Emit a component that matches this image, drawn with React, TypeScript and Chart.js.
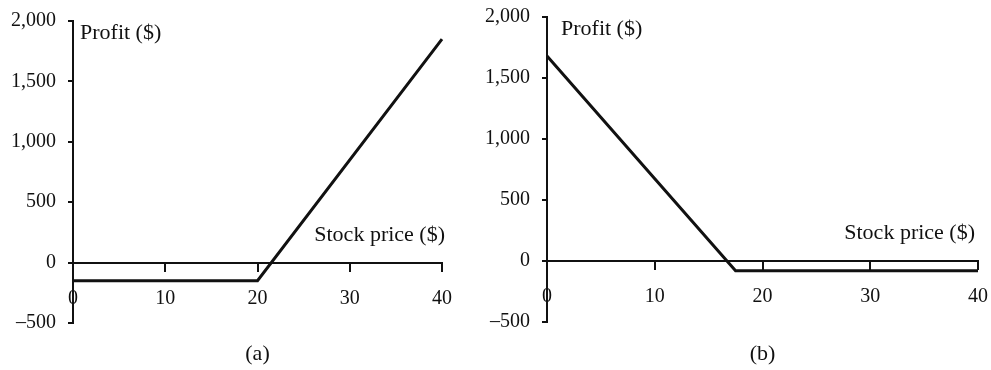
import React, { useEffect, useRef } from "react";
import { Chart, registerables } from "chart.js";

Chart.register(...registerables);

// ---- data ----
const stockPriceA = [0, 20, 40];
const profitA = [-150, -150, 1850];
const stockPriceB = [0, 17.5, 40];
const profitB = [1680, -80, -80];

const xTickValues = [0, 10, 20, 30, 40];
const xTickLabels = ["0", "10", "20", "30", "40"];
const yTickValues = [-500, 0, 500, 1000, 1500, 2000];
const yTickLabels = ["\u2013500", "0", "500", "1,000", "1,500", "2,000"];

const yAxisTitle = "Profit ($)";
const xAxisTitle = "Stock price ($)";
const panelCaptions = ["(a)", "(b)"];

const INK = "#111";
const FONT_FAMILY = '"Liberation Serif", "Times New Roman", serif';

const annotationPlugin = {
  id: "panelAnnotations",
  afterDraw(chart: any, _args: any, opts: any) {
    const { ctx, chartArea, scales } = chart;
    const y = scales.y;
    ctx.save();
    ctx.fillStyle = INK;
    ctx.font = `22px ${FONT_FAMILY}`;
    ctx.textBaseline = "alphabetic";
    ctx.textAlign = "left";
    ctx.fillText(yAxisTitle, chartArea.left + opts.titleDx, y.getPixelForValue(y.max) + 18);
    ctx.textAlign = "right";
    ctx.fillText(xAxisTitle, chartArea.right + opts.xTitleDx, y.getPixelForValue(0) - 22);
    ctx.textAlign = "center";
    ctx.fillText(opts.caption, (chartArea.left + chartArea.right) / 2, 360);
    ctx.restore();
  },
};

type PanelProps = {
  xs: number[];
  ys: number[];
  caption: string;
  left: number;
  width: number;
  yWidth: number;
  padTop: number;
  padRight: number;
  padBottom: number;
  titleDx: number;
  xTitleDx: number;
};

function Panel(p: PanelProps) {
  const ref = useRef<HTMLCanvasElement | null>(null);
  useEffect(() => {
    if (!ref.current) return;
    const tickFont = { family: FONT_FAMILY, size: 20 };
    const chart = new Chart(ref.current, {
      type: "line",
      data: {
        datasets: [
          {
            data: p.xs.map((x, i) => ({ x, y: p.ys[i] })),
            borderColor: INK,
            borderWidth: 3,
            pointRadius: 0,
            tension: 0,
            fill: false,
            clip: false as any,
          },
        ],
      },
      options: {
        animation: false,
        responsive: false,
        devicePixelRatio: 1,
        layout: { padding: { left: 0, top: p.padTop, right: p.padRight, bottom: p.padBottom } },
        plugins: {
          legend: { display: false },
          tooltip: { enabled: false },
          panelAnnotations: { caption: p.caption, titleDx: p.titleDx, xTitleDx: p.xTitleDx },
        } as any,
        scales: {
          x: {
            type: "linear",
            min: 0,
            max: 40,
            position: { y: 0 } as any,
            afterBuildTicks: (s: any) => {
              s.ticks = xTickValues.map((v) => ({ value: v }));
            },
            afterFit: (s: any) => {
              s.paddingLeft = 0;
              s.paddingRight = 0;
            },
            ticks: {
              autoSkip: false,
              maxRotation: 0,
              padding: 16,
              color: INK,
              font: tickFont,
              callback: (v: any) => xTickLabels[xTickValues.indexOf(Number(v))],
            },
            grid: { drawOnChartArea: false, drawTicks: true, tickLength: 8, color: INK, lineWidth: 2 },
            border: { display: true, color: INK, width: 2 },
          },
          y: {
            type: "linear",
            min: -500,
            max: 2000,
            afterBuildTicks: (s: any) => {
              s.ticks = yTickValues.map((v) => ({ value: v }));
            },
            afterFit: (s: any) => {
              s.width = p.yWidth;
              s.paddingTop = 0;
              s.paddingBottom = 0;
            },
            ticks: {
              padding: 12,
              color: INK,
              font: tickFont,
              callback: (v: any) => yTickLabels[yTickValues.indexOf(Number(v))],
            },
            grid: { drawOnChartArea: false, drawTicks: true, tickLength: 5, color: INK, lineWidth: 2 },
            border: { display: true, color: INK, width: 2 },
          },
        },
      } as any,
      plugins: [annotationPlugin],
    });
    return () => chart.destroy();
  }, []);
  return (
    <canvas
      ref={ref}
      width={p.width}
      height={370}
      style={{ position: "absolute", left: p.left, top: 0, width: p.width, height: 370 }}
    />
  );
}

export default function App() {
  return (
    <div
      style={{
        position: "fixed",
        left: 0,
        top: 0,
        width: 991,
        height: 370,
        background: "#fff",
        overflow: "hidden",
      }}
    >
      <Panel
        xs={stockPriceA}
        ys={profitA}
        caption={panelCaptions[0]}
        left={0}
        width={475}
        yWidth={73}
        padTop={21}
        padRight={33}
        padBottom={47}
        titleDx={7}
        xTitleDx={3}
      />
      <Panel
        xs={stockPriceB}
        ys={profitB}
        caption={panelCaptions[1]}
        left={475}
        width={516}
        yWidth={72}
        padTop={17}
        padRight={13}
        padBottom={48}
        titleDx={14}
        xTitleDx={-3}
      />
    </div>
  );
}
